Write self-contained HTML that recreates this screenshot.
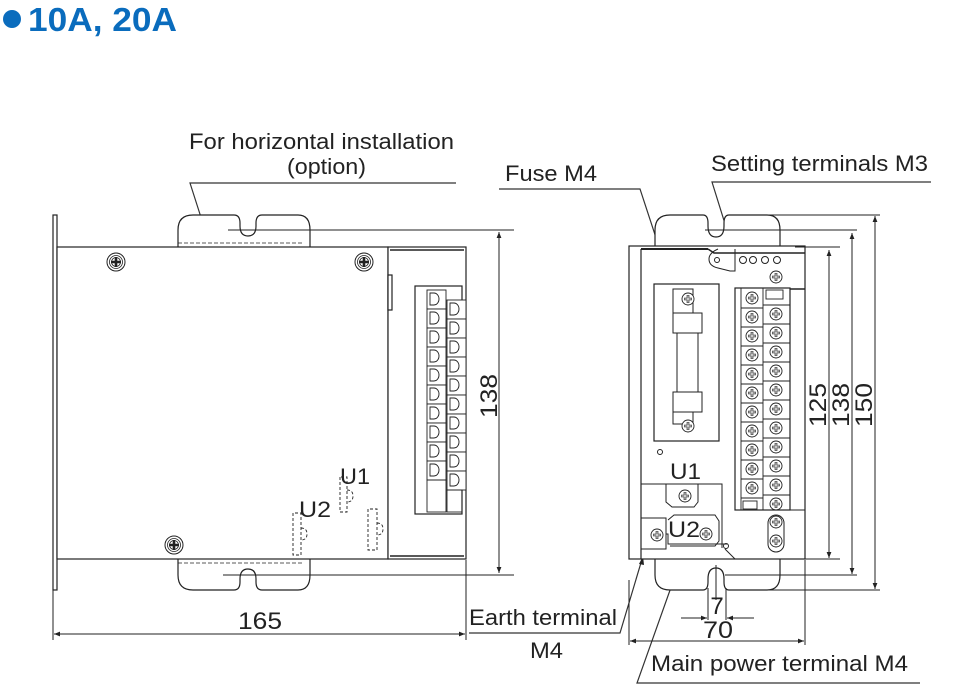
<!DOCTYPE html>
<html><head><meta charset="utf-8"><style>
html,body{margin:0;padding:0;background:#fff;}
svg{display:block;font-family:"Liberation Sans",sans-serif;}
</style></head><body>
<svg width="959" height="695" viewBox="0 0 959 695" xmlns="http://www.w3.org/2000/svg">
<defs>
<g id="sc"><circle r="9" fill="#fff" stroke="#222" stroke-width="1"/><circle r="6.5" fill="none" stroke="#222" stroke-width="0.8"/><circle r="4.5" fill="none" stroke="#222" stroke-width="0.8"/><path d="M-5 0H5M0 -5V5" stroke="#222" stroke-width="2.6"/></g>
<g id="ts"><circle r="6" fill="#fff" stroke="#222" stroke-width="0.9"/><path d="M-4 0H4M0 -4V4" stroke="#222" stroke-width="2.6"/><path d="M-3.6 0H3.6M0 -3.6V3.6" stroke="#fff" stroke-width="1"/></g>
<g id="dcell"><rect x="0" y="0" width="19" height="19" fill="#fff" stroke="#222" stroke-width="0.9"/><path d="M3 3h4a5 6 0 0 1 0 12h-4z" fill="none" stroke="#222" stroke-width="0.9"/></g>
<marker id="ar" viewBox="0 0 10 10" refX="10" refY="5" markerWidth="9" markerHeight="6" orient="auto-start-reverse" markerUnits="userSpaceOnUse"><path d="M0 1L10 5L0 9z" fill="#222"/></marker>
</defs>

<!-- Title -->
<circle cx="12" cy="19" r="9" fill="#0a6cbd"/>
<text x="28" y="31" font-size="33" font-weight="bold" fill="#0a6cbd" textLength="149" lengthAdjust="spacingAndGlyphs">10A, 20A</text>

<!-- Labels -->
<g font-size="22" fill="#222">
<text x="189" y="149" textLength="265" lengthAdjust="spacingAndGlyphs">For horizontal installation</text>
<text x="287" y="174" textLength="79" lengthAdjust="spacingAndGlyphs">(option)</text>
<text x="505" y="181" textLength="92" lengthAdjust="spacingAndGlyphs">Fuse M4</text>
<text x="711" y="171" textLength="217" lengthAdjust="spacingAndGlyphs">Setting terminals M3</text>
<text x="469" y="625" textLength="148" lengthAdjust="spacingAndGlyphs">Earth terminal</text>
<text x="530" y="658" textLength="33" lengthAdjust="spacingAndGlyphs">M4</text>
<text x="651" y="671" textLength="257" lengthAdjust="spacingAndGlyphs">Main power terminal M4</text>
</g>
<g stroke="#333" stroke-width="1.2" fill="none">
<path d="M456 183H190L206 233"/>
<path d="M499 189H640L683 320"/>
<path d="M931 182H712L745 288"/>
<path d="M469 633H620L643 556"/>
<path d="M920 683H637L685 548"/>
</g>
<g fill="#222"><path d="M206 233l-4-9 5-1z"/><path d="M683 320l-5-9 5-1z"/><path d="M745 288l-5-9 5-1z"/><path d="M643 556l1 9-5-1z"/><path d="M685 548l0 9-5-2z"/></g>

<!-- LEFT VIEW -->
<g stroke="#222" stroke-width="1.2" fill="#fff">
<rect x="53" y="215" width="4" height="375"/>
<path d="M178 247V230q0-15 15-15h41q6 0 6 8v3q0 10 8 10t8-10v-3q0-8 6-8h36q12 0 12 15v17"/>
<path d="M178 559v16q0 15 15 15h41q6 0 6-8v-3q0-10 8-10t8 10v3q0 8 6 8h36q12 0 12-15v-16"/>
<rect x="57" y="247" width="331" height="312"/>
<rect x="388" y="247" width="78" height="312"/>
<rect x="388" y="275" width="4" height="35"/>
<rect x="415" y="286" width="47" height="228"/>
</g>
<path d="M178 243H303M178 563H303" stroke="#222" stroke-dasharray="4 2" stroke-width="0.8"/>
<path d="M390 250H464M390 556H464" stroke="#222" stroke-width="1.5"/>
<g>
<use href="#dcell" x="427" y="290"/><use href="#dcell" x="427" y="309"/><use href="#dcell" x="427" y="328"/><use href="#dcell" x="427" y="347"/><use href="#dcell" x="427" y="366"/><use href="#dcell" x="427" y="385"/><use href="#dcell" x="427" y="404"/><use href="#dcell" x="427" y="423"/><use href="#dcell" x="427" y="442"/><use href="#dcell" x="427" y="461"/>
<use href="#dcell" x="447" y="300"/><use href="#dcell" x="447" y="319"/><use href="#dcell" x="447" y="338"/><use href="#dcell" x="447" y="357"/><use href="#dcell" x="447" y="376"/><use href="#dcell" x="447" y="395"/><use href="#dcell" x="447" y="414"/><use href="#dcell" x="447" y="433"/><use href="#dcell" x="447" y="452"/><use href="#dcell" x="447" y="471"/>
<rect x="427" y="480" width="19" height="32" fill="none" stroke="#222" stroke-width="0.9"/>
<rect x="447" y="490" width="15" height="22" fill="none" stroke="#222" stroke-width="0.9"/>
</g>
<use href="#sc" x="116" y="262"/><use href="#sc" x="364" y="262"/><use href="#sc" x="174" y="545"/>
<g stroke="#222" stroke-width="0.9" fill="none" stroke-dasharray="3 2">
<path d="M340 477V512H347V477ZM347 490q6 0 6 6t-6 6"/>
<path d="M293 513V555H301V513ZM301 528q6 0 6 6t-6 6"/>
<path d="M368 509V550H377V509ZM377 523q6 0 6 6t-6 6"/>
</g>
<text x="340" y="484" font-size="22" fill="#222" textLength="30" lengthAdjust="spacingAndGlyphs">U1</text>
<text x="299" y="517" font-size="22" fill="#222" textLength="32" lengthAdjust="spacingAndGlyphs">U2</text>
<!-- dims left -->
<g stroke="#222" stroke-width="1" fill="none">
<path d="M228 230H514M223 575H514"/>
<path d="M499 232V573" marker-start="url(#ar)" marker-end="url(#ar)"/>
<path d="M53 590V640M466 560V640"/>
<path d="M54 634H465" marker-start="url(#ar)" marker-end="url(#ar)"/>
</g>
<text x="238" y="629" font-size="24" fill="#222" textLength="44" lengthAdjust="spacingAndGlyphs">165</text>
<text transform="translate(497,418) rotate(-90)" font-size="24" fill="#222" textLength="44" lengthAdjust="spacingAndGlyphs">138</text>

<!-- RIGHT VIEW -->
<g stroke="#222" stroke-width="1.2" fill="#fff">
<path d="M655 246V230q0-15 15-15h33q5 0 5 8v3q0 11 8 11t8-11v-3q0-8 5-8h38q13 0 13 15v16"/>
<path d="M655 559v16q0 15 15 15h33q5 0 5-8v-3q0-11 8-11t8 11v3q0 8 5 8h38q13 0 13-15v-16"/>
<rect x="629" y="246" width="176" height="313"/>
<path d="M641 249V559" fill="none"/>
<rect x="654" y="284" width="65" height="157"/>
<rect x="735" y="288" width="55" height="222"/>
</g>
<path d="M641 249H708" stroke="#222" stroke-width="2"/>
<path d="M708 249l6 4H805M790 289H805" stroke="#222" stroke-width="1.5" fill="none"/>
<g stroke="#222" fill="none" stroke-width="1">
<path d="M718 249q-9 4-9 10q0 7 9 9l12 3h5V249"/>
<circle cx="717" cy="260" r="2.5"/>
<circle cx="743" cy="260" r="3.5"/><circle cx="753" cy="260" r="3.5"/><circle cx="765" cy="260" r="3.5"/><circle cx="777" cy="260" r="3.5"/>
<circle cx="660" cy="452" r="2.5"/>
<path d="M641 484H722V548M666 484V502l6 5H694l4-5V484"/>
<path d="M641 518H666V549H641M666 534h2v10h60"/>
<path d="M668 520l6-5H715l4 6V541l-4 5H670"/>
<circle cx="726" cy="546" r="2.5"/>
<path d="M735 510H805"/>
<rect x="768" y="515" width="16" height="37" rx="8"/>
<path d="M725 549l10 10"/>
</g>
<!-- fuse -->
<g stroke="#222" stroke-width="1" fill="#fff">
<rect x="673" y="289" width="20" height="24"/>
<rect x="673" y="400" width="20" height="24"/>
<rect x="673" y="313" width="29" height="20"/>
<rect x="677" y="333" width="21" height="59"/>
<rect x="673" y="392" width="29" height="20"/>
</g>
<use href="#ts" x="688" y="299"/><use href="#ts" x="688" y="426"/>
<use href="#ts" x="776" y="277"/>
<use href="#ts" x="685" y="496"/><use href="#ts" x="657" y="535"/><use href="#ts" x="706" y="534"/>
<use href="#ts" x="776" y="522"/><use href="#ts" x="776" y="541"/>
<!-- terminal block right -->
<g stroke="#222" stroke-width="0.9" fill="none">
<path d="M741 288V510M763 288V510"/>
<path d="M741 308H763M741 327H763M741 346H763M741 365H763M741 384H763M741 403H763M741 422H763M741 441H763M741 460H763M741 479H763M741 498H763"/>
<path d="M763 305H790M763 324H790M763 343H790M763 362H790M763 381H790M763 400H790M763 419H790M763 438H790M763 457H790M763 476H790M763 495H790"/>
<rect x="766" y="290" width="17" height="9"/>
<rect x="743" y="501" width="14" height="8"/>
</g>
<use href="#ts" x="752" y="298"/><use href="#ts" x="752" y="317"/><use href="#ts" x="752" y="336"/><use href="#ts" x="752" y="355"/><use href="#ts" x="752" y="374"/><use href="#ts" x="752" y="393"/><use href="#ts" x="752" y="412"/><use href="#ts" x="752" y="431"/><use href="#ts" x="752" y="450"/><use href="#ts" x="752" y="469"/><use href="#ts" x="752" y="488"/>
<use href="#ts" x="776" y="314"/><use href="#ts" x="776" y="333"/><use href="#ts" x="776" y="352"/><use href="#ts" x="776" y="371"/><use href="#ts" x="776" y="390"/><use href="#ts" x="776" y="409"/><use href="#ts" x="776" y="428"/><use href="#ts" x="776" y="447"/><use href="#ts" x="776" y="466"/><use href="#ts" x="776" y="485"/><use href="#ts" x="776" y="504"/>
<text x="670" y="479" font-size="22" fill="#222" textLength="31" lengthAdjust="spacingAndGlyphs">U1</text>
<text x="668" y="537" font-size="22" fill="#222" textLength="32" lengthAdjust="spacingAndGlyphs">U2</text>
<!-- dims right -->
<g stroke="#222" stroke-width="1" fill="none">
<path d="M765 215H880M705 230H857M795 247H840M795 559H840M725 575H857M745 590H880"/>
<path d="M829 250V558" marker-start="url(#ar)" marker-end="url(#ar)"/>
<path d="M852 233V574" marker-start="url(#ar)" marker-end="url(#ar)"/>
<path d="M875 216V589" marker-start="url(#ar)" marker-end="url(#ar)"/>
<path d="M716 565V600M708 588V620M726 588V620"/>
<path d="M681 618H707" marker-end="url(#ar)"/><path d="M754 618H727" marker-end="url(#ar)"/>
<path d="M629 580V645M805 560V645"/>
<path d="M630 641H804" marker-start="url(#ar)" marker-end="url(#ar)"/>
</g>
<text x="717" y="614" font-size="24" fill="#222" text-anchor="middle">7</text>
<text x="703" y="638" font-size="24" fill="#222" textLength="30" lengthAdjust="spacingAndGlyphs">70</text>
<text transform="translate(826,427) rotate(-90)" font-size="24" fill="#222" textLength="44" lengthAdjust="spacingAndGlyphs">125</text>
<text transform="translate(849,427) rotate(-90)" font-size="24" fill="#222" textLength="44" lengthAdjust="spacingAndGlyphs">138</text>
<text transform="translate(872,427) rotate(-90)" font-size="24" fill="#222" textLength="44" lengthAdjust="spacingAndGlyphs">150</text>
</svg>
</body></html>
